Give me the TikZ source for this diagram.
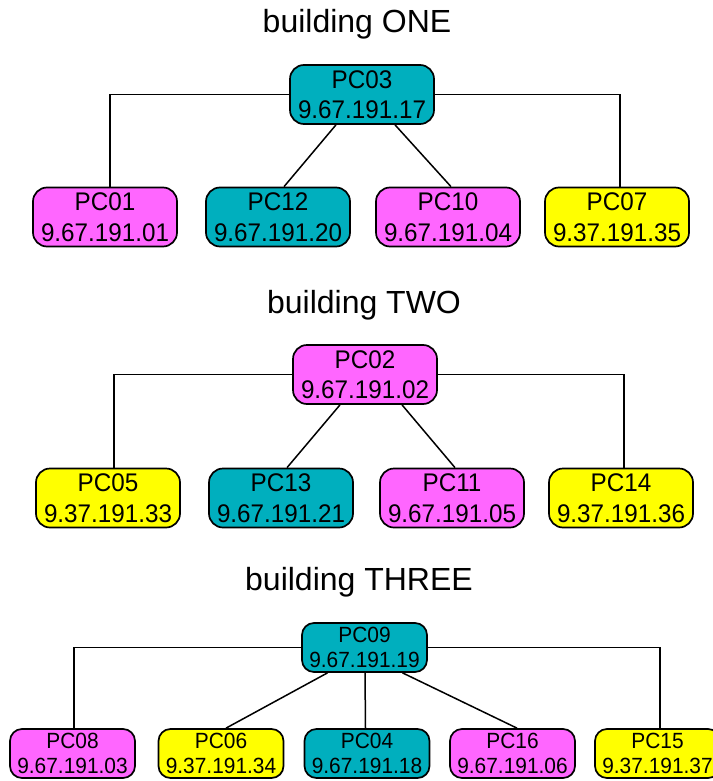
\documentclass[tikz,border=0pt]{standalone}
\usepackage{fontspec}
\setmainfont{Liberation Sans}
\newfontfamily\boxfont[FakeStretch=0.95]{Liberation Sans}
\usetikzlibrary{calc}

\definecolor{pcteal}{RGB}{0,175,190}
\definecolor{pcpink}{RGB}{255,102,255}
\definecolor{pcyellow}{RGB}{255,255,0}

\begin{document}
\begin{tikzpicture}[x=1pt,y=-1pt,
    title/.style={anchor=base,font=\fontsize{32}{38}\selectfont},
    pc/.style={draw,line width=1.7pt,rounded corners=14pt,align=center,inner sep=0pt,
        minimum width=144pt,minimum height=59pt,font=\boxfont\fontsize{25.5}{30.5}\selectfont},
    pcsmall/.style={pc,minimum width=125pt,minimum height=49pt,rounded corners=12pt,
        font=\boxfont\fontsize{22}{25}\selectfont},
    link/.style={line width=1.5pt}]
            \useasboundingbox (0,0) rectangle (712,781);

            \node[title] (one) at (357,33) {building ONE};
            \node[pc,fill=pcteal] (pc03) at (362,94.5) {PC03\\9.67.191.17};
            \node[pc,fill=pcpink] (pc01) at (105,217) {PC01\\9.67.191.01};
            \node[pc,fill=pcteal] (pc12) at (278,217) {PC12\\9.67.191.20};
            \node[pc,fill=pcpink] (pc10) at (448,217) {PC10\\9.67.191.04};
            \node[pc,fill=pcyellow] (pc07) at (617,217) {PC07\\9.37.191.35};

            \draw[link] (pc03.west) -| ([xshift=5pt]pc01.north);
            \draw[link] (pc03.east) -| ([xshift=3pt]pc07.north);
            \draw[link] ([xshift=-26pt]pc03.south) -- ([xshift=6pt]pc12.north);
            \draw[link] ([xshift=33pt]pc03.south) -- ([xshift=3pt]pc10.north);

            \node[title] (two) at (364,313) {building TWO};
            \node[pc,fill=pcpink] (pc02) at (365,374.5) {PC02\\9.67.191.02};
            \node[pc,fill=pcyellow] (pc05) at (108,498) {PC05\\9.37.191.33};
            \node[pc,fill=pcteal] (pc13) at (281,498) {PC13\\9.67.191.21};
            \node[pc,fill=pcpink] (pc11) at (452,498) {PC11\\9.67.191.05};
            \node[pc,fill=pcyellow] (pc14) at (621,498) {PC14\\9.37.191.36};

            \draw[link] (pc02.west) -| ([xshift=6pt]pc05.north);
            \draw[link] (pc02.east) -| ([xshift=3pt]pc14.north);
            \draw[link] ([xshift=-25pt]pc02.south) -- ([xshift=6pt]pc13.north);
            \draw[link] ([xshift=37pt]pc02.south) -- ([xshift=3pt]pc11.north);

            \node[title] (three) at (359,590) {building THREE};
            \node[pcsmall,fill=pcteal] (pc09) at (364.5,647.5) {PC09\\9.67.191.19};
            \node[pcsmall,fill=pcpink] (pc08) at (72.5,753.5) {PC08\\9.67.191.03};
            \node[pcsmall,fill=pcyellow] (pc06) at (221,753.5) {PC06\\9.37.191.34};
            \node[pcsmall,fill=pcteal] (pc04) at (367,753.5) {PC04\\9.67.191.18};
            \node[pcsmall,fill=pcpink] (pc16) at (512.5,753.5) {PC16\\9.67.191.06};
            \node[pcsmall,fill=pcyellow] (pc15) at (657.5,753.5) {PC15\\9.37.191.37};

            \draw[link] (pc09.west) -| ([xshift=1.5pt]pc08.north);
            \draw[link] (pc09.east) -| ([xshift=2.5pt]pc15.north);
            \draw[link] ([xshift=-37pt]pc09.south) -- ([xshift=5pt]pc06.north);
            \draw[link] ([xshift=0.5pt]pc09.south) -- ([xshift=-1.5pt]pc04.north);
            \draw[link] ([xshift=38pt]pc09.south) -- ([xshift=4.5pt]pc16.north);
        \end{tikzpicture}
\end{document}
